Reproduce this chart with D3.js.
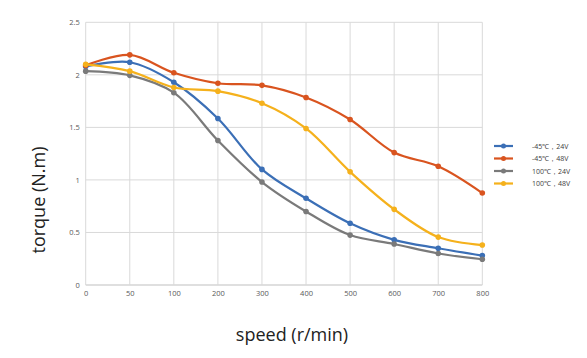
<!DOCTYPE html>
<html><head><meta charset="utf-8">
<script src="https://cdn.jsdelivr.net/npm/d3@7"></script>
<style>body{margin:0;background:#fff}svg{display:block}</style>
</head><body>
<script>
const categories = ["0","50","100","200","300","400","500","600","700","800"];
const seriesNames = ["-45℃，24V","-45℃，48V","100℃，24V","100℃，48V"];
const s1 = [2.08,2.12,1.93,1.585,1.10,0.825,0.587,0.43,0.35,0.28];
const s2 = [2.09,2.19,2.02,1.92,1.90,1.785,1.575,1.26,1.13,0.875];
const s3 = [2.035,1.995,1.83,1.375,0.98,0.70,0.475,0.39,0.30,0.245];
const s4 = [2.10,2.035,1.88,1.845,1.73,1.49,1.077,0.72,0.456,0.38];
const yTicks = [0,0.5,1,1.5,2,2.5];
const colors = ["#3b6fb6","#d9541f","#7a7a7a","#f5b11c"];
const series = [s1,s2,s3,s4];

const W=587,H=358;
const svg=d3.select("body").append("svg").attr("width",W).attr("height",H);
const x=d3.scalePoint().domain(categories).range([85.7,482.3]);
const y=d3.scaleLinear().domain([0,2.5]).range([285,22.3]);

const grid=svg.append("g");
grid.selectAll("line.h").data(yTicks).join("line")
 .attr("x1",85.7).attr("x2",482.3).attr("y1",d=>y(d)).attr("y2",d=>y(d))
 .attr("stroke",d=>d===0?"#bfbfbf":"#d9d9d9").attr("stroke-width",1);
grid.selectAll("line.v").data(categories).join("line")
 .attr("x1",d=>x(d)).attr("x2",d=>x(d)).attr("y1",y(0)).attr("y2",y(2.5))
 .attr("stroke","#d9d9d9").attr("stroke-width",1);

const yAxis=d3.axisLeft(y).tickValues(yTicks).tickSize(0).tickPadding(6).tickFormat(d=>String(d));
const ga=svg.append("g").attr("transform","translate(85.7,0)").call(yAxis);
ga.select(".domain").remove();
ga.selectAll("text").attr("font-family","Open Sans, sans-serif").attr("font-size",7.5).attr("fill","#595959");

const xAxis=d3.axisBottom(x).tickSize(0).tickPadding(6);
const gx=svg.append("g").attr("transform","translate(0,285)").call(xAxis);
gx.select(".domain").remove();
gx.selectAll("text").attr("font-family","Open Sans, sans-serif").attr("font-size",7.5).attr("fill","#595959");

const line=d3.line().x((d,i)=>x(categories[i])).y(d=>y(d)).curve(d3.curveCatmullRom.alpha(0.5));
series.forEach((s,k)=>{
  svg.append("path").datum(s).attr("d",line).attr("fill","none")
    .attr("stroke",colors[k]).attr("stroke-width",2.2).attr("stroke-linejoin","round");
  svg.append("g").selectAll("circle").data(s).join("circle")
    .attr("cx",(d,i)=>x(categories[i])).attr("cy",d=>y(d)).attr("r",2.8).attr("fill",colors[k]);
});

const leg=svg.append("g");
const ly=[146,158.5,171,183.5];
seriesNames.forEach((n,k)=>{
  leg.append("line").attr("x1",494).attr("x2",513).attr("y1",ly[k]).attr("y2",ly[k])
    .attr("stroke",colors[k]).attr("stroke-width",2.2);
  leg.append("circle").attr("cx",503.5).attr("cy",ly[k]).attr("r",2.5).attr("fill",colors[k]);
  leg.append("text").attr("x",532).attr("y",ly[k]+2.7).text(n)
    .attr("font-family","Open Sans, sans-serif").attr("font-size",7).attr("fill","#404040");
});

svg.append("text").attr("transform","translate(45,200) rotate(-90)").attr("text-anchor","middle")
 .attr("font-family","Open Sans, sans-serif").attr("font-size",18).attr("fill","#222").text("torque (N.m)");
svg.append("text").attr("x",292).attr("y",341).attr("text-anchor","middle")
 .attr("font-family","Open Sans, sans-serif").attr("font-size",18).attr("fill","#222").text("speed (r/min)");
</script>
</body></html>
